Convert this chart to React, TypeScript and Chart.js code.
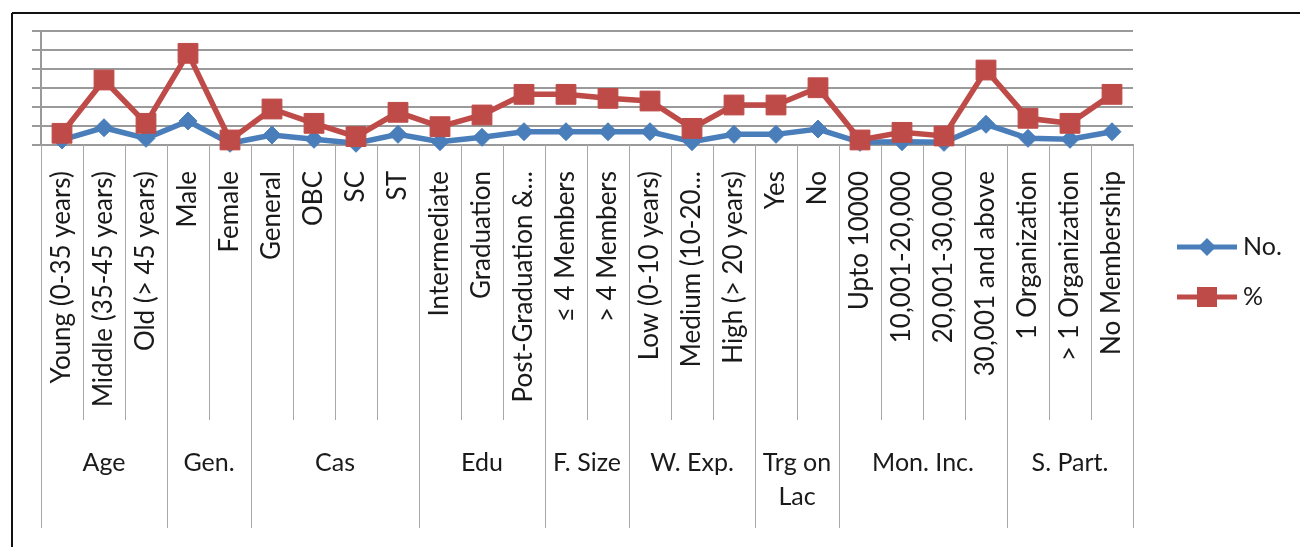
import React, { useEffect, useRef } from 'react';
import { Chart, registerables } from 'chart.js';

Chart.register(...registerables);

const categories = [
  'Young (0-35 years)', 'Middle (35-45 years)', 'Old (> 45 years)',
  'Male', 'Female',
  'General', 'OBC', 'SC', 'ST',
  'Intermediate', 'Graduation', 'Post-Graduation &...',
  '≤ 4 Members', '> 4 Members',
  'Low (0-10 years)', 'Medium (10-20...', 'High (> 20 years)',
  'Yes', 'No',
  'Upto 10000', '10,001-20,000', '20,001-30,000', '30,001 and above',
  '1 Organization', '> 1 Organization', 'No Membership',
];

const groupNames = ['Age', 'Gen.', 'Cas', 'Edu', 'F. Size', 'W. Exp.', 'Trg on\nLac', 'Mon. Inc.', 'S. Part.'];
const groupSizes = [3, 2, 4, 3, 2, 3, 2, 4, 3];

const noValues = [5.3, 18.2, 7, 25.3, 1.8, 10.5, 6, 1.8, 11.2, 3.5, 8.1, 14, 14, 14, 14, 3.5, 11.2, 11.2, 16.8, 2.8, 3.5, 2.8, 21.8, 7, 6, 14];
const pctValues = [12.3, 68.4, 22.8, 96.5, 5.3, 37.9, 22.8, 8.8, 34.4, 19.3, 31.6, 53.3, 53.3, 49.1, 46.3, 17.5, 42.1, 42.1, 60.3, 5.3, 13.3, 9.5, 78.9, 28.1, 22.8, 53.3];

const seriesNames = ['No.', '%'];

const yMin = 0;
const yMax = 120;
const yStep = 20;

const BLUE = '#4a7ebb';
const RED = '#be4b48';
const GRID = '#9a9a9a';
const SEP = '#a8a8a8';
const TEXT = '#1a1a1a';
const FONT = 'Lato, "Open Sans", sans-serif';

const frameAndGroupsPlugin = {
  id: 'frameAndGroups',
  beforeDraw(chart: any) {
    const ctx = chart.ctx;
    ctx.save();
    ctx.fillStyle = '#ffffff';
    ctx.fillRect(0, 0, chart.width, chart.height);
    ctx.strokeStyle = '#111111';
    ctx.lineWidth = 2;
    ctx.beginPath();
    ctx.moveTo(12, 13);
    ctx.lineTo(chart.width, 13);
    ctx.moveTo(12, 13);
    ctx.lineTo(12, chart.height);
    ctx.stroke();
    ctx.restore();
  },
  afterDraw(chart: any) {
    const ctx = chart.ctx;
    const x = chart.scales.x;
    const area = chart.chartArea;
    const n = categories.length;
    const half = (x.getPixelForValue(1) - x.getPixelForValue(0)) / 2;
    const boundary = (i: number) =>
      i < n ? x.getPixelForValue(i) - half : x.getPixelForValue(n - 1) + half;

    const groupStarts: number[] = [];
    let acc = 0;
    groupSizes.forEach((s) => { groupStarts.push(acc); acc += s; });
    const isGroupEdge = (i: number) => i === n || groupStarts.includes(i);

    ctx.save();
    ctx.strokeStyle = SEP;
    ctx.lineWidth = 1;
    for (let i = 0; i <= n; i++) {
      const px = Math.round(boundary(i)) + 0.5;
      ctx.beginPath();
      ctx.moveTo(px, area.bottom);
      ctx.lineTo(px, isGroupEdge(i) ? x.bottom : area.bottom + 275);
      ctx.stroke();
    }

    ctx.fillStyle = TEXT;
    ctx.font = `25px ${FONT}`;
    ctx.textAlign = 'center';
    ctx.textBaseline = 'middle';
    groupNames.forEach((name, g) => {
      const start = groupStarts[g];
      const end = start + groupSizes[g];
      const cx = (boundary(start) + boundary(end)) / 2;
      const lines = name.split('\n');
      lines.forEach((ln, k) => {
        ctx.fillText(ln, cx, 463 + k * 34);
      });
    });

    // legend
    const items = [
      { label: seriesNames[0], color: BLUE, style: 'diamond', y: 247 },
      { label: seriesNames[1], color: RED, style: 'square', y: 297 },
    ];
    items.forEach((it) => {
      ctx.strokeStyle = it.color;
      ctx.lineWidth = 5;
      ctx.beginPath();
      ctx.moveTo(1177, it.y);
      ctx.lineTo(1237, it.y);
      ctx.stroke();
      ctx.fillStyle = it.color;
      const mx = 1207;
      if (it.style === 'diamond') {
        ctx.beginPath();
        ctx.moveTo(mx - 9, it.y);
        ctx.lineTo(mx, it.y - 9);
        ctx.lineTo(mx + 9, it.y);
        ctx.lineTo(mx, it.y + 9);
        ctx.closePath();
        ctx.fill();
      } else {
        ctx.fillRect(mx - 10, it.y - 10, 20, 20);
      }
      ctx.fillStyle = TEXT;
      ctx.textAlign = 'left';
      ctx.fillText(it.label, 1243, it.y);
    });
    ctx.restore();
  },
};

export default function App() {
  const canvasRef = useRef<HTMLCanvasElement | null>(null);

  useEffect(() => {
    if (!canvasRef.current) return;
    const chart = new Chart(canvasRef.current, {
      type: 'line',
      data: {
        labels: categories,
        datasets: [
          {
            label: seriesNames[0],
            data: noValues,
            borderColor: BLUE,
            backgroundColor: BLUE,
            borderWidth: 5.5,
            pointStyle: 'rectRot',
            pointRadius: 9,
            pointBorderWidth: 1,
            pointBackgroundColor: BLUE,
            pointBorderColor: BLUE,
            tension: 0,
            clip: false as any,
            order: 2,
          },
          {
            label: seriesNames[1],
            data: pctValues,
            borderColor: RED,
            backgroundColor: RED,
            borderWidth: 5.5,
            pointStyle: 'rect',
            pointRadius: 14,
            pointBorderWidth: 1,
            pointBackgroundColor: RED,
            pointBorderColor: RED,
            tension: 0,
            clip: false as any,
            order: 1,
          },
        ],
      },
      options: {
        animation: false,
        responsive: false,
        maintainAspectRatio: false,
        layout: { padding: { left: 0, top: 31, right: 167, bottom: 19 } },
        plugins: {
          legend: { display: false },
          tooltip: { enabled: false },
        },
        scales: {
          x: {
            type: 'category',
            offset: true,
            grid: { display: false, drawTicks: false },
            border: { display: true, color: GRID, width: 2 },
            ticks: {
              autoSkip: false,
              minRotation: 90,
              maxRotation: 90,
              padding: 26,
              color: TEXT,
              font: { family: FONT, size: 26 },
            },
            afterFit: (scale: any) => { scale.height = 383; },
          },
          y: {
            min: yMin,
            max: yMax,
            ticks: { stepSize: yStep, display: false },
            grid: { color: GRID, lineWidth: 2, tickLength: 9, drawTicks: true },
            border: { display: true, color: GRID, width: 2 },
            afterFit: (scale: any) => { scale.width = 41; },
          },
        },
      },
      plugins: [frameAndGroupsPlugin],
    });
    return () => chart.destroy();
  }, []);

  return (
    <div style={{ position: 'fixed', left: 0, top: 0, width: 1300, height: 547, background: '#fff' }}>
      <canvas ref={canvasRef} width={1300} height={547} style={{ display: 'block' }} />
    </div>
  );
}
